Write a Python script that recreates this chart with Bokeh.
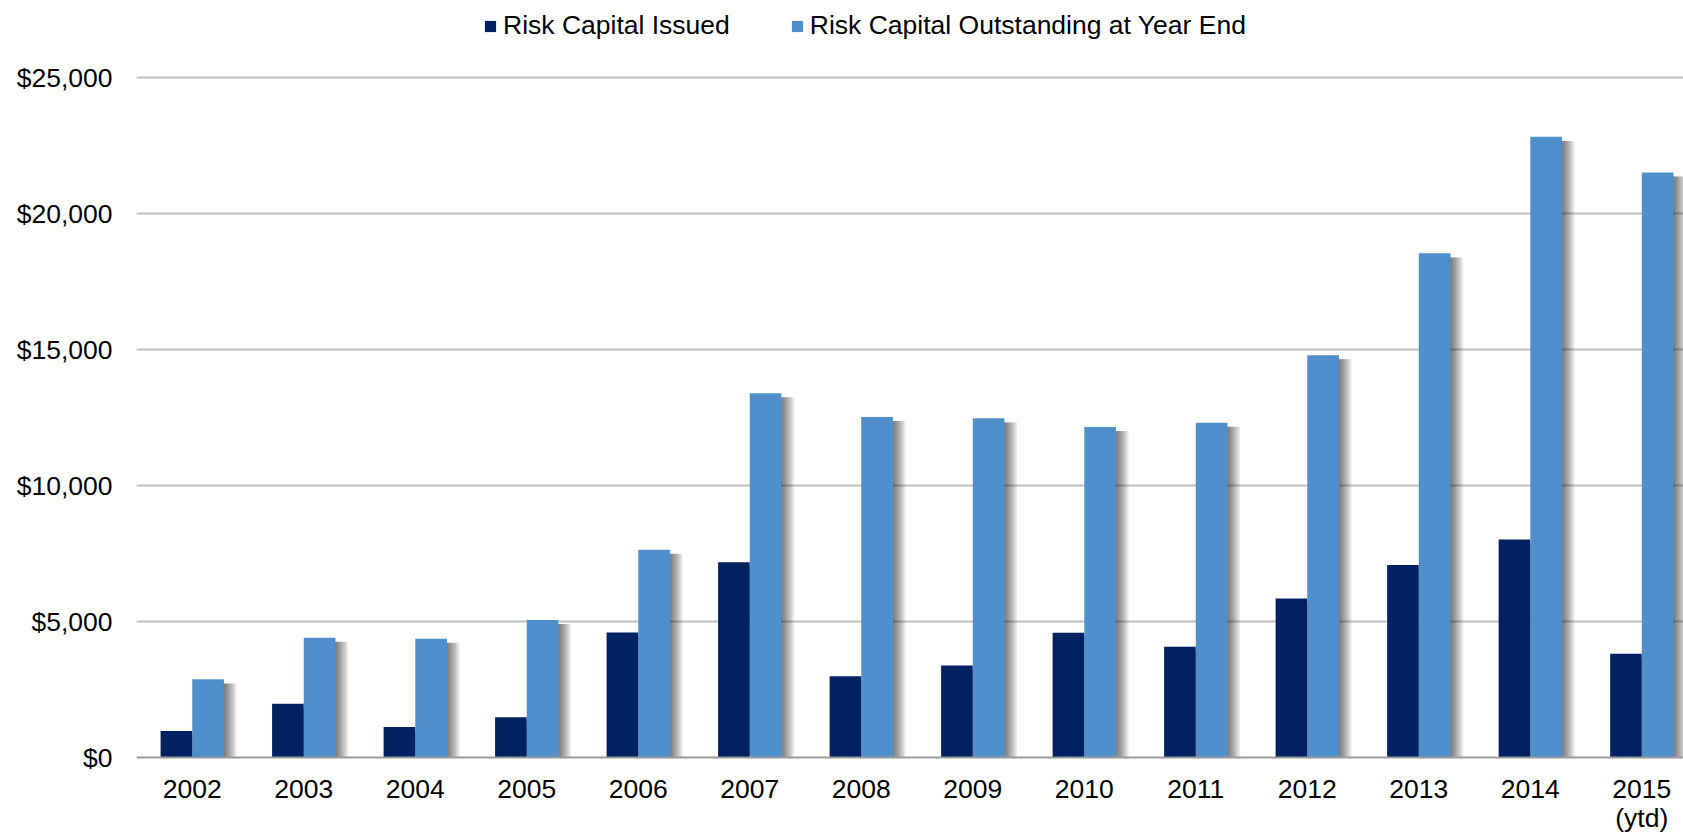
from bokeh.plotting import figure
from bokeh.models import (Range1d, FixedTicker, NumeralTickFormatter, Legend,
                          LegendItem, ColumnDataSource)
from bokeh.embed import file_html
from bokeh.resources import INLINE
import numpy as np

# ---- data ----
years = ["2002", "2003", "2004", "2005", "2006", "2007", "2008", "2009",
         "2010", "2011", "2012", "2013", "2014", "2015\n(ytd)"]
issued = [990, 1990, 1140, 1500, 4610, 7190, 3000, 3400, 4600, 4090, 5860,
          7090, 8030, 3830]
outstanding = [2890, 4420, 4380, 5070, 7650, 13400, 12530, 12480, 12160,
               12320, 14800, 18540, 22820, 21510]
y_ticks = [0, 5000, 10000, 15000, 20000, 25000]

DARK = "#012162"
LIGHT = "#4F8FCC"
FONT = "Liberation Sans"
FS = "26.5px"

idx = np.arange(len(years))
src = ColumnDataSource(dict(x=idx, issued=issued, outstanding=outstanding,
                            year=years))

# frame covers the full canvas height; the x axis is pinned at y=0
p = figure(width=1683, height=832, output_backend="svg", toolbar_location=None,
           x_range=Range1d(-0.5, 13.374), y_range=Range1d(-2737, 27829),
           min_border_left=136, min_border_right=0, min_border_top=0,
           min_border_bottom=0)
p.outline_line_color = None
p.background_fill_color = "white"
p.border_fill_color = "white"

bw = 0.284
px = 1.0 / 111.5  # one screen pixel in x data units


def shadows(field, off):
    for k in range(1, 8):
        p.vbar(x=idx + off + k * 1.8 * px,
               top=[v - 150 for v in src.data[field]],
               bottom=0, width=bw, fill_color="black", fill_alpha=0.09,
               line_color=None)


shadows("issued", -bw / 2)
r1 = p.vbar(x=idx - bw / 2, top=issued, bottom=0, width=bw, fill_color=DARK,
            line_color=None)
shadows("outstanding", bw / 2)
r2 = p.vbar(x=idx + bw / 2, top=outstanding, bottom=0, width=bw,
            fill_color=LIGHT, line_color=None)

# axes
p.xaxis.fixed_location = 0
p.xaxis.ticker = FixedTicker(ticks=list(idx))
p.xaxis.major_label_overrides = {int(i): y for i, y in zip(idx, years)}
p.xaxis.major_tick_line_color = None
p.xaxis.minor_tick_line_color = None
p.xaxis.major_tick_out = 0
p.xaxis.major_tick_in = 0
p.xaxis.major_label_standoff = 16
p.xaxis.axis_line_color = "#9a9a9a"
p.xaxis.axis_line_width = 2
p.xaxis.major_label_text_font = FONT
p.xaxis.major_label_text_font_size = FS
p.xaxis.major_label_text_color = "black"
p.xaxis.major_label_text_line_height = 0.97

p.yaxis.ticker = FixedTicker(ticks=y_ticks)
p.yaxis.formatter = NumeralTickFormatter(format="$0,0")
p.yaxis.axis_line_color = None
p.yaxis.major_tick_line_color = None
p.yaxis.minor_tick_line_color = None
p.yaxis.major_tick_out = 0
p.yaxis.major_label_standoff = 24
p.yaxis.major_label_text_font = FONT
p.yaxis.major_label_text_font_size = FS
p.yaxis.major_label_text_color = "black"

p.xgrid.grid_line_color = None
p.ygrid.ticker = FixedTicker(ticks=y_ticks[1:])
p.ygrid.grid_line_color = "#c0c0c0"
p.ygrid.grid_line_width = 2

legend = Legend(items=[LegendItem(label="Risk Capital Issued", renderers=[r1]),
                       LegendItem(label="Risk Capital Outstanding at Year End",
                                  renderers=[r2])],
                orientation="horizontal", location=(347, 791),
                glyph_width=14, glyph_height=14, label_standoff=6, spacing=60,
                padding=0, margin=0, border_line_color=None,
                background_fill_alpha=0, label_text_font=FONT,
                label_text_font_size=FS, label_text_color="black")
p.add_layout(legend)

open("out.html", "w").write(file_html(p, INLINE))
